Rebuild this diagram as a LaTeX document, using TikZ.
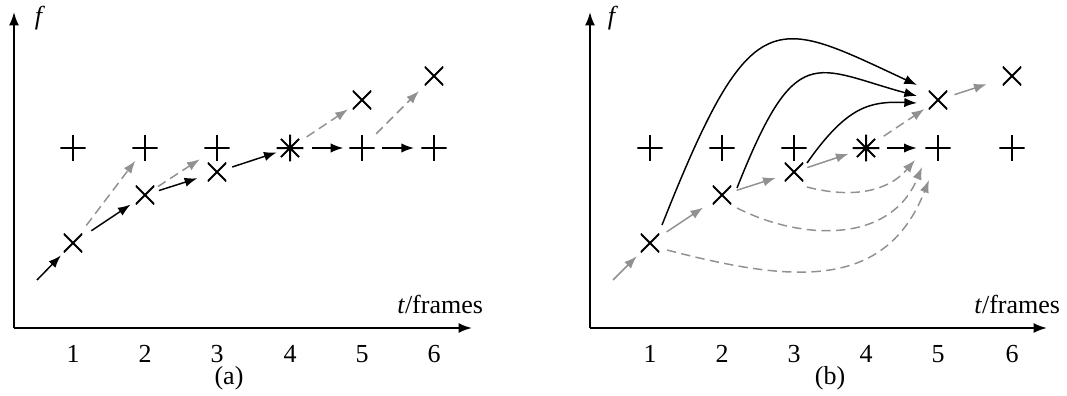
\documentclass[tikz,border=0pt]{standalone}
\usepackage{fontspec}
\setmainfont{Liberation Serif}
\usetikzlibrary{arrows.meta,calc}
\definecolor{arrgray}{RGB}{145,145,145}
\tikzset{
  plusmark/.style={minimum size=19pt, inner sep=0pt, outer sep=0pt,
    path picture={\draw[line width=1.5pt] (path picture bounding box.north) -- (path picture bounding box.south)
      (path picture bounding box.west) -- (path picture bounding box.east);}},
  xmark/.style={minimum size=14pt, inner sep=0pt, outer sep=0pt,
    path picture={\draw[line width=1.5pt] (path picture bounding box.north west) -- (path picture bounding box.south east)
      (path picture bounding box.south west) -- (path picture bounding box.north east);}},
  astmark/.style={minimum size=20pt, inner sep=0pt, outer sep=0pt,
    path picture={\draw[line width=1.5pt] (path picture bounding box.north) -- (path picture bounding box.south)
      (path picture bounding box.west) -- (path picture bounding box.east)
      ($(path picture bounding box.center)!0.68!(path picture bounding box.north west)$) -- ($(path picture bounding box.center)!0.68!(path picture bounding box.south east)$)
      ($(path picture bounding box.center)!0.68!(path picture bounding box.south west)$) -- ($(path picture bounding box.center)!0.68!(path picture bounding box.north east)$);}},
  axisline/.style={line width=1.5pt, -{Latex[length=10pt,width=7.5pt]}},
  blk/.style={line width=1.1pt, -{Latex[length=9.5pt,width=7pt]}},
  gry/.style={line width=1.1pt, draw=arrgray, -{Latex[length=9.5pt,width=7pt]}, arrgray},
  gdash/.style={gry, dash pattern=on 7pt off 4pt},
  lbl/.style={font=\fontsize{19.5}{23}\selectfont, inner sep=0pt, anchor=base},
}
\begin{document}
\begin{tikzpicture}[x=0.75pt,y=-0.75pt]
\useasboundingbox (0,0) rectangle (1067,396);
% ---------------- panel (a) ----------------
\coordinate (ao) at (14,328);
\coordinate (atop) at (14,12);
\coordinate (aright) at (472,328);
\draw[axisline] (ao) -- (atop);
\draw[axisline] (ao) -- (aright);
\node[lbl, anchor=center] (af) at (40,18) {\textit{f}};
\node[lbl, anchor=base west] (at) at (397,313) {\textit{t}/frames};
\foreach \i/\x in {1/73,2/145,3/217,4/290,5/362,6/434}{
  \node[lbl] (an\i) at (\x,362) {\i};
}
\node[lbl] (acap) at (229,384) {(a)};

\node[plusmark] (ap1) at (73,148) {};
\node[plusmark] (ap2) at (145,148) {};
\node[plusmark] (ap3) at (217,148) {};
\node[astmark] (aast) at (290,148) {};
\node[plusmark] (ap5) at (362,148) {};
\node[plusmark] (ap6) at (434,148) {};
\node[xmark] (ax1) at (73,243) {};
\node[xmark] (ax2) at (145,195) {};
\node[xmark] (ax3) at (217,172) {};
\node[xmark] (ax5) at (362,100) {};
\node[xmark] (ax6) at (434,76) {};
\coordinate (a0) at (37,280);

\draw[blk, shorten >=13pt] (a0) -- (ax1.center);
\draw[blk, shorten <=16.5pt, shorten >=13pt] (ax1.center) -- (ax2.center);
\draw[gdash, shorten <=16.5pt, shorten >=12pt] (ax1.center) -- (ap2.center);
\draw[blk, shorten <=11pt, shorten >=15.5pt] (ax2.center) -- (ax3.center);
\draw[gdash, shorten <=11.5pt, shorten >=15.5pt] (ax2.center) -- (ap3.center);
\draw[blk, shorten <=12pt, shorten >=10.5pt] (ax3.center) -- (aast.center);
\draw[gdash, shorten <=15pt, shorten >=12.7pt] (aast.center) -- (ax5.center);
\draw[blk, shorten <=16.5pt, shorten >=14pt] (aast.center) -- (ap5.center);
\draw[gdash, shorten <=15pt, shorten >=16pt] (ap5.center) -- (ax6.center);
\draw[blk, shorten <=15pt, shorten >=15pt] (ap5.center) -- (ap6.center);

% ---------------- panel (b) ----------------
\coordinate (bo) at (590,328);
\coordinate (btop) at (590,12);
\coordinate (bright) at (1047,328);
\draw[axisline] (bo) -- (btop);
\draw[axisline] (bo) -- (bright);
\node[lbl, anchor=center] (bf) at (613,18) {\textit{f}};
\node[lbl, anchor=base west] (bt) at (974,313) {\textit{t}/frames};
\foreach \i/\x in {1/650,2/722,3/794,4/866,5/938,6/1012}{
  \node[lbl] (bn\i) at (\x,362) {\i};
}
\node[lbl] (bcap) at (830,384) {(b)};

\node[plusmark] (bp1) at (650,148) {};
\node[plusmark] (bp2) at (722,148) {};
\node[plusmark] (bp3) at (794,148) {};
\node[astmark] (bast) at (866,148) {};
\node[plusmark] (bp5) at (938,148) {};
\node[plusmark] (bp6) at (1012,148) {};
\node[xmark] (bx1) at (650,243) {};
\node[xmark] (bx2) at (722,195) {};
\node[xmark] (bx3) at (794,172) {};
\node[xmark] (bx5) at (938,100) {};
\node[xmark] (bx6) at (1012,76) {};
\coordinate (b0) at (613,280);

\draw[gry, shorten >=14pt] (b0) -- (bx1.center);
\draw[gry, shorten <=15pt, shorten >=17pt] (bx1.center) -- (bx2.center);
\draw[gry, shorten <=11.5pt, shorten >=14.4pt] (bx2.center) -- (bx3.center);
\draw[gry, shorten <=10.5pt, shorten >=13.8pt] (bx3.center) -- (bast.center);
\draw[blk, shorten <=16pt, shorten >=16pt] (bast.center) -- (bp5.center);
\draw[gdash, shorten <=16pt, shorten >=12.3pt] (bast.center) -- (bx5.center);
\draw[gry, shorten <=13pt, shorten >=20pt] (bx5.center) -- (bx6.center);

% black curves
\draw[blk] ($(bx1)+(12,-18)$) .. controls (752,-2) and (773,18) .. ($(bx5)+(-21,-15)$);
\draw[blk] ($(bx2)+(15,-7)$) .. controls (796,39) and (814,68) .. ($(bx5)+(-21,-4)$);
\draw[blk] ($(bx3)+(13,-9)$) .. controls (847,106) and (870,101) .. ($(bx5)+(-21,3)$);
% grey dashed curves
\draw[gdash] ($(bx1)+(17,7)$) .. controls (790,282) and (885,292) .. ($(bp5)+(-9,32)$);
\draw[gdash] ($(bx2)+(15,13)$) .. controls (800,240) and (890,245) .. ($(bp5)+(-16,19)$);
\draw[gdash] ($(bx3)+(13,15)$) .. controls (845,197) and (885,195) .. ($(bp5)+(-23,12)$);
\end{tikzpicture}
\end{document}
